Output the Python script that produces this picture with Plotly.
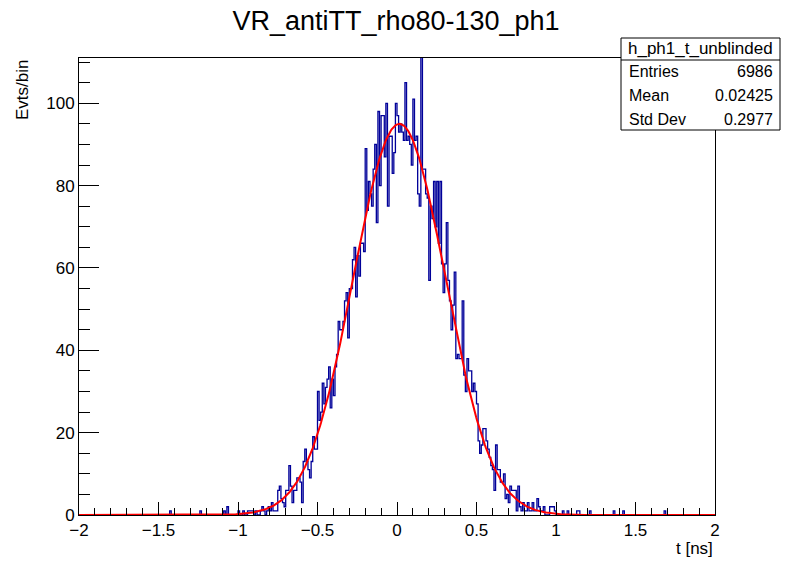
import numpy as np
import plotly.graph_objects as go

# binning of h_ph1_t_unblinded
x_min, x_max, n_bins = -2.0, 2.0, 400

# counts, 0.01 ns bins
counts_m100_m051 = [1, 0, 0, 1, 0, 0, 1, 1, 1, 1,
                    0, 1, 0, 0, 1, 2, 1, 0, 1, 2,
                    1, 3, 1, 1, 1, 6, 7, 4, 3, 2,
                    6, 6, 12, 7, 3, 6, 6, 9, 9, 8,
                    3, 13, 16, 13, 11, 9, 13, 19, 16, 16]
counts_m050_m001 = [30, 23, 25, 32, 27, 31, 33, 36, 26, 33,
                    29, 36, 39, 47, 45, 45, 47, 52, 54, 43,
                    55, 55, 62, 65, 53, 63, 58, 66, 66, 64,
                    89, 74, 81, 78, 75, 84, 90, 71, 98, 80,
                    97, 97, 87, 100, 75, 92, 92, 83, 88, 100]
counts_000_049 = [97, 93, 95, 93, 91, 105, 91, 92, 90, 85,
                  101, 91, 92, 78, 75, 115, 84, 84, 78, 77,
                  57, 75, 72, 81, 70, 81, 66, 81, 61, 54,
                  61, 71, 57, 52, 45, 51, 59, 38, 39, 38,
                  38, 52, 34, 30, 38, 35, 35, 30, 32, 30]
counts_050_099 = [27, 18, 15, 17, 21, 21, 18, 16, 14, 12,
                  11, 6, 17, 11, 11, 8, 8, 10, 4, 5,
                  3, 7, 6, 6, 6, 1, 7, 2, 1, 3,
                  1, 1, 3, 1, 1, 3, 1, 1, 4, 2,
                  1, 1, 2, 0, 0, 0, 2, 2, 2, 1]
# isolated entries in the tails: bin low edge -> count
tail_counts = {-1.43: 1, -1.24: 1, -1.09: 1, -1.07: 2,
               1.04: 1, 1.07: 1, 1.13: 1, 1.14: 1, 1.21: 1,
               1.36: 1, 1.42: 1, 1.68: 1}

# gaussian fit
fit_const, fit_mean, fit_sigma = 95.0, 0.015, 0.29

stats_name = "h_ph1_t_unblinded"
stats_rows = [("Entries", "6986"), ("Mean", "0.02425"), ("Std Dev", "0.2977")]

edges = np.linspace(x_min, x_max, n_bins + 1)
counts = np.zeros(n_bins)
core = counts_m100_m051 + counts_m050_m001 + counts_000_049 + counts_050_099
i0 = int(round((-1.0 - x_min) / 0.01))
counts[i0:i0 + len(core)] = core
for lo, c in tail_counts.items():
    counts[int(round((lo - x_min) / 0.01))] = c

hx = edges
hy = np.append(counts, counts[-1])

fx = np.linspace(x_min, x_max, 800)
fy = fit_const * np.exp(-0.5 * ((fx - fit_mean) / fit_sigma) ** 2)

fig = go.Figure()
fig.add_trace(go.Scatter(x=hx, y=hy, mode="lines", line_shape="hv",
                         line=dict(color="#000099", width=1.3), showlegend=False))
fig.add_trace(go.Scatter(x=fx, y=fy, mode="lines",
                         line=dict(color="#ff0000", width=2), showlegend=False))

# page body adds an 8px offset, margins compensate for it
off = 8
font = "Liberation Sans, Arial, sans-serif"
fig.update_layout(
    width=796, height=572,
    margin=dict(l=79 - off, r=81 + off, t=58 - off, b=57 + off),
    paper_bgcolor="white", plot_bgcolor="white",
    font=dict(family=font, size=17, color="black"),
    title=dict(text="VR_antiTT_rho80-130_ph1", x=(396 - off) / 796, xanchor="center",
               y=1 - (21 - off) / 572, yanchor="middle", font=dict(size=27)),
)
fig.update_xaxes(range=[x_min, x_max], dtick=0.5, tick0=0, showgrid=False, zeroline=False,
                 showline=True, linecolor="black", linewidth=1, mirror=True,
                 ticks="inside", ticklen=13, tickcolor="black",
                 minor=dict(ticks="inside", dtick=0.1, ticklen=7, tickcolor="black"),
                 tickfont=dict(size=17))
fig.update_yaxes(range=[0, 111], dtick=20, showgrid=False, zeroline=False,
                 showline=True, linecolor="black", linewidth=1, mirror=True,
                 ticks="inside", ticklen=20, tickcolor="black",
                 minor=dict(ticks="inside", dtick=5, ticklen=11, tickcolor="black"),
                 tickfont=dict(size=17))


def px(xp):
    return (xp - 79) / 636.0


def py(yp):
    return (515 - yp) / 457.0


fig.add_annotation(text="t [ns]", xref="paper", yref="paper", x=px(715), y=py(537),
                   xanchor="right", yanchor="top", showarrow=False, font=dict(size=17))
fig.add_annotation(text="Evts/bin", xref="paper", yref="paper", x=px(22), y=py(58),
                   xanchor="center", yanchor="top", textangle=-90, showarrow=False,
                   font=dict(size=17))

# stats box
fig.add_shape(type="rect", xref="paper", yref="paper", x0=px(621), x1=px(780),
              y0=py(130), y1=py(38), line=dict(color="black", width=1),
              fillcolor="white", layer="above")
fig.add_shape(type="line", xref="paper", yref="paper", x0=px(621), x1=px(780),
              y0=py(60), y1=py(60), line=dict(color="black", width=1), layer="above")
fig.add_annotation(text=stats_name, xref="paper", yref="paper", x=px(700.5), y=py(48),
                   xanchor="center", yanchor="middle", showarrow=False, font=dict(size=17))
for k, (lab, val) in enumerate(stats_rows):
    yy = py(72 + 23.5 * k)
    fig.add_annotation(text=lab, xref="paper", yref="paper", x=px(627), y=yy,
                       xanchor="left", yanchor="middle", showarrow=False, font=dict(size=16))
    fig.add_annotation(text=val, xref="paper", yref="paper", x=px(775), y=yy,
                       xanchor="right", yanchor="middle", showarrow=False, font=dict(size=16))

fig.write_html("out.html")
